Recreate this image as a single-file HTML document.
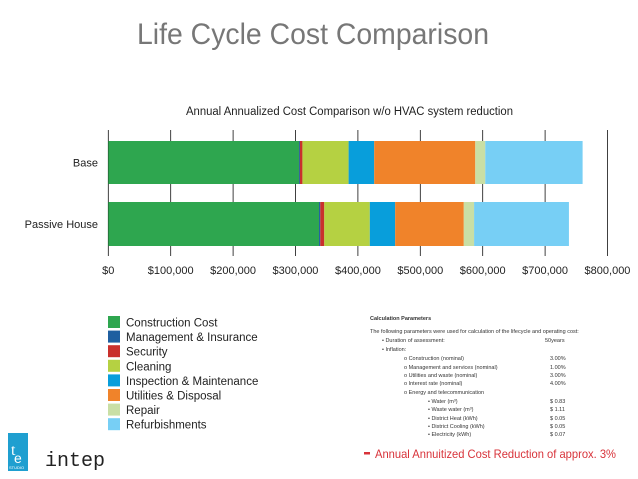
<!DOCTYPE html>
<html><head><meta charset="utf-8"><style>
body{margin:0;background:#fff;width:638px;height:479px;overflow:hidden;font-family:"Liberation Sans",sans-serif}
svg{display:block}
</style></head><body>
<svg id="chart" width="638" height="479" viewBox="0 0 638 479">
<text x="137" y="44" font-size="30" fill="#777" textLength="352" lengthAdjust="spacingAndGlyphs">Life Cycle Cost Comparison</text>
<text x="186" y="115" font-size="11.5" fill="#222" textLength="327" lengthAdjust="spacingAndGlyphs">Annual Annualized Cost  Comparison w/o HVAC system reduction</text>
<g id="axis"></g>
<g id="bars"></g>
<g id="legend"></g>
<g font-size="5.5" fill="#333">
<text x="370" y="320" font-weight="bold">Calculation Parameters</text>
<text x="370" y="333">The following parameters were used for calculation of the lifecycle and operating cost:</text>
<text x="382" y="342">•   Duration of assessment:</text><text x="545" y="342">50years</text>
<text x="382" y="351">•   Inflation:</text>
<text x="404" y="360">o   Construction (nominal)</text><text x="550" y="360">3.00%</text>
<text x="404" y="369">o   Management and services (nominal)</text><text x="550" y="369">1.00%</text>
<text x="404" y="377">o   Utilities and waste (nominal)</text><text x="550" y="377">3.00%</text>
<text x="404" y="385">o   Interest rate (nominal)</text><text x="550" y="385">4.00%</text>
<text x="404" y="394">o   Energy and telecommunication</text>
<text x="428" y="403">•   Water (m³)</text><text x="550" y="403">$ 0.83</text>
<text x="428" y="411">•   Waste water (m³)</text><text x="550" y="411">$ 1.11</text>
<text x="428" y="420">•   District Heat (kWh)</text><text x="550" y="420">$ 0.05</text>
<text x="428" y="428">•   District Cooling (kWh)</text><text x="550" y="428">$ 0.05</text>
<text x="428" y="436">•   Electricity (kWh)</text><text x="550" y="436">$ 0.07</text>
</g>
<rect x="364" y="452" width="6" height="2.5" fill="#d8333a"/>
<text x="375" y="458" font-size="12" fill="#d8333a" textLength="241" lengthAdjust="spacingAndGlyphs">Annual Annuitized Cost Reduction of approx. 3%</text>
<g>
<rect x="8" y="433" width="20" height="38" fill="#1f9fd0"/>
<text x="11" y="455" font-size="16" fill="#fff" font-family="Liberation Serif,serif">t</text>
<text x="14" y="463" font-size="14" fill="#fff">e</text>
<text x="9" y="469" font-size="4" fill="#fff">STUDIO</text>
</g>
<text x="45" y="466" font-size="20" fill="#222" font-family="Liberation Mono,monospace">intep</text>
</svg>
<script>
const categories=["Base","Passive House"];
const seriesNames=["Construction Cost","Management & Insurance","Security","Cleaning","Inspection & Maintenance","Utilities & Disposal","Repair","Refurbishments"];
const construction=[305600,337700];
const management=[1500,2000];
const security=[4000,6400];
const cleaning=[74000,73000];
const inspection=[41000,40600];
const utilities=[162000,110000];
const repair=[16000,16500];
const refurbishments=[156000,152000];
const tickValues=[0,100000,200000,300000,400000,500000,600000,700000,800000];
const tickLabels=["$0","$100,000","$200,000","$300,000","$400,000","$500,000","$600,000","$700,000","$800,000"];
const series=[construction,management,security,cleaning,inspection,utilities,repair,refurbishments];
const colors=["#2ea64f","#1f5fa0","#c9302c","#b5d142","#089edb","#f0832a","#c9dfa5","#77cff5"];
const NS="http://www.w3.org/2000/svg";
const x0=108.3,x1=607.5,maxV=800000;
function xs(v){return x0+v/maxV*(x1-x0);}
const barTop=[141,202],barH=[43,44];
function mk(t,a,p){const e=document.createElementNS(NS,t);for(const k in a)e.setAttribute(k,a[k]);p.appendChild(e);return e;}
const axis=document.getElementById('axis'),bars=document.getElementById('bars'),legend=document.getElementById('legend');
tickValues.forEach((v,i)=>{
 const l=mk('line',{x1:xs(v),x2:xs(v),y1:130,y2:256,stroke:'#111','stroke-width':0.8},axis);
 
 
 const t=mk('text',{x:xs(v),y:274,'font-size':11,'text-anchor':'middle',fill:'#222'},axis);
 t.textContent=tickLabels[i];
 
 
});
categories.forEach((c,ci)=>{
 const t=mk('text',{x:98,y:barTop[ci]+barH[ci]/2+4,'font-size':11,'text-anchor':'end',fill:'#222'},axis);
 t.textContent=c;
 
 
 let acc=0;
 series.forEach((s,si)=>{
  const r=mk('rect',{x:xs(acc),y:barTop[ci],width:xs(acc+s[ci])-xs(acc),height:barH[ci],fill:colors[si]},bars);
  
  
  acc+=s[ci];
 });
});
seriesNames.forEach((n,i)=>{
 const y=316+i*14.6;
 const r=mk('rect',{x:108,y:y,width:12,height:12,fill:colors[i]},legend);
 
 
 const t=mk('text',{x:126,y:y+10.5,'font-size':11.5,fill:'#222'},legend);
 t.textContent=n;
 
 
});
</script>
</body></html>
